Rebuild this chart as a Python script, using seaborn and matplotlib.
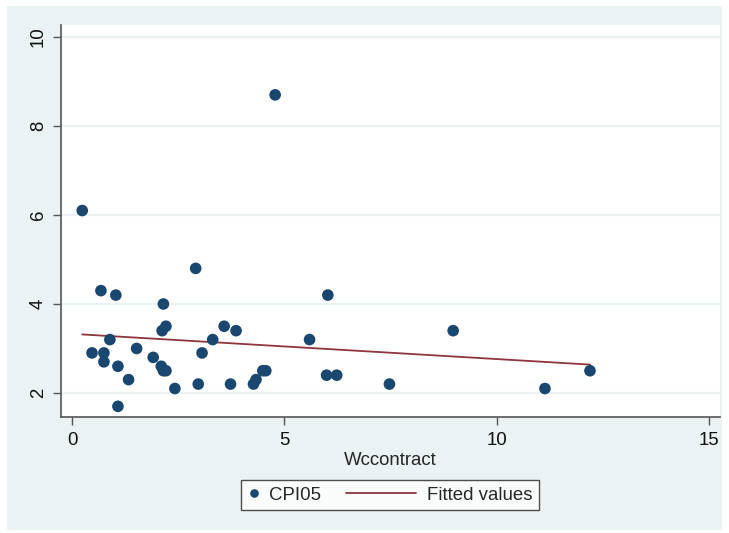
import numpy as np
import pandas as pd
import matplotlib
matplotlib.use("Agg")
import matplotlib.pyplot as plt
import seaborn as sns
from matplotlib.patches import Rectangle
from matplotlib.lines import Line2D
from matplotlib.legend_handler import HandlerBase

# ---- data ----
wccontract = [0.24, 0.47, 0.68, 0.75, 0.75, 0.89, 1.03, 1.08, 1.08, 1.33,
              1.52, 1.91, 2.10, 2.12, 2.15, 2.15, 2.21, 2.21, 2.42, 2.91,
              2.97, 3.06, 3.31, 3.58, 3.73, 3.86, 4.27, 4.33, 4.49, 4.56,
              4.78, 5.59, 5.99, 6.02, 6.23, 7.47, 8.97, 11.13, 12.19]
cpi05 = [6.1, 2.9, 4.3, 2.9, 2.7, 3.2, 4.2, 2.6, 1.7, 2.3,
         3.0, 2.8, 2.6, 3.4, 4.0, 2.5, 3.5, 2.5, 2.1, 4.8,
         2.2, 2.9, 3.2, 3.5, 2.2, 3.4, 2.2, 2.3, 2.5, 2.5,
         8.7, 3.2, 2.4, 4.2, 2.4, 2.2, 3.4, 2.1, 2.5]
x_ticks = [0, 5, 10, 15]
y_ticks = [2, 4, 6, 8, 10]
x_label = "Wccontract"
legend_labels = ["CPI05", "Fitted values"]

df = pd.DataFrame({"Wccontract": wccontract, "CPI05": cpi05})
slope, intercept = np.polyfit(df["Wccontract"], df["CPI05"], 1)
df["Fitted"] = intercept + slope * df["Wccontract"]

# ---- style ----
sns.set_theme(style="white")
plt.rcParams["font.family"] = ["Liberation Sans", "DejaVu Sans"]

BG = "#EAF2F3"
NAVY = "#1A476F"
MAROON = "#90353B"
AXC = "#555555"
FS = 13.4

fig = plt.figure(figsize=(7.29, 5.33), dpi=100)
fig.patch.set_facecolor("white")
fig.patches.append(Rectangle((7 / 729, 1 - 530 / 533), (722 - 7) / 729, (530 - 6) / 533,
                             transform=fig.transFigure, facecolor=BG, edgecolor="none", zorder=-10))

ax = fig.add_axes([61 / 729, 1 - 417 / 533, (720 - 61) / 729, (417 - 25) / 533])
ax.set_facecolor("white")

sns.scatterplot(data=df, x="Wccontract", y="CPI05", ax=ax, color=NAVY, s=70,
                edgecolor="none", linewidth=0, zorder=3, legend=False)
sns.lineplot(data=df, x="Wccontract", y="Fitted", ax=ax, color=MAROON, lw=1.3,
             zorder=2, errorbar=None, legend=False)

ax.set_xlim(-0.26, 15.25)
ax.set_ylim(1.46, 10.27)
ax.set_xticks(x_ticks)
ax.set_yticks(y_ticks)
ax.set_xticklabels([str(t) for t in x_ticks], fontsize=FS)
ax.set_yticklabels([str(t) for t in y_ticks], fontsize=FS, rotation=90, va="center")
ax.set_xlabel(x_label, fontsize=FS, labelpad=2)
ax.set_ylabel("")

ax.grid(axis="y", color=BG, lw=1.6, zorder=0)
ax.grid(axis="x", visible=False)
ax.set_axisbelow(True)

for s in ["top", "right"]:
    ax.spines[s].set_visible(False)
for s in ["left", "bottom"]:
    ax.spines[s].set_color(AXC)
    ax.spines[s].set_linewidth(1.2)
ax.tick_params(axis="x", which="both", direction="out", length=6, width=1,
               color=AXC, labelcolor="#111111", bottom=True, pad=5)
ax.tick_params(axis="y", which="both", direction="out", length=6, width=1,
               color=AXC, labelcolor="#111111", left=True, pad=4)


class LongLineHandler(HandlerBase):
    """Draws the legend line extending leftwards beyond the short handle box."""
    def create_artists(self, legend, orig_handle, xdescent, ydescent, width, height,
                       fontsize, trans):
        y = height / 2 - ydescent
        x1 = width - xdescent - 0.2 * fontsize
        x0 = x1 - 3.76 * fontsize
        ln = Line2D([x0, x1], [y, y], color=orig_handle.get_color(),
                    lw=orig_handle.get_linewidth(), transform=trans)
        return [ln]


h_pts = Line2D([], [], marker="o", ls="", color=NAVY, markersize=6.2, markeredgewidth=0)
h_fit = Line2D([], [], color=MAROON, lw=1.3)
leg = fig.legend([h_pts, h_fit], legend_labels, loc="center",
                 bbox_to_anchor=(390 / 729, 1 - 495 / 533),
                 ncol=2, frameon=True, fontsize=FS, fancybox=False, edgecolor="#222222",
                 columnspacing=4.5, handlelength=0.8, handletextpad=0.4, borderpad=0.35,
                 handler_map={h_fit: LongLineHandler()})
leg.get_frame().set_linewidth(1.0)
leg.get_frame().set_facecolor("white")

fig.savefig("out.png", dpi=100, facecolor=fig.get_facecolor())
